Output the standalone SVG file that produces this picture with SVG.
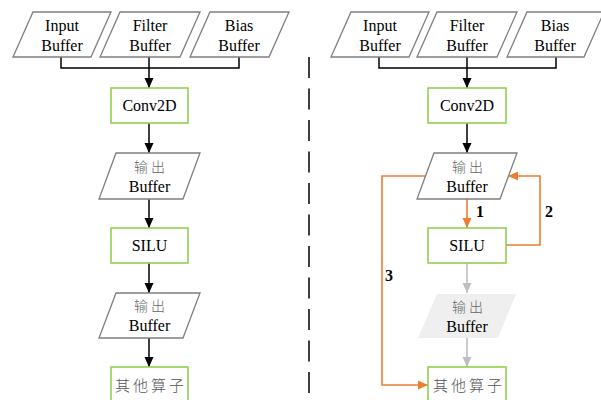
<svg xmlns="http://www.w3.org/2000/svg" width="601" height="400" viewBox="0 0 601 400">
<style>
.pg{fill:#fff;stroke:#7f7f7f;stroke-width:1.3}
.pgg{fill:#efefef;stroke:none}
.bx{fill:#fff;stroke:#92d050;stroke-width:1.6}
.t{font-family:'Liberation Serif',serif;font-size:16px;fill:#000;text-anchor:middle}
.c{font-family:'Noto Sans CJK SC',sans-serif;font-size:14px;font-weight:300;fill:#666;text-anchor:middle;letter-spacing:3px}
.c2{font-family:'Noto Sans CJK SC',sans-serif;font-size:15px;font-weight:300;fill:#555;text-anchor:middle;letter-spacing:3px}
.n{font-family:'Liberation Serif',serif;font-size:16px;font-weight:bold;fill:#000;text-anchor:middle}
.k{fill:none;stroke:#000;stroke-width:1.5}
.o{fill:none;stroke:#ed7d31;stroke-width:1.6}
.g{fill:none;stroke:#bfbfbf;stroke-width:1.6}
</style>
<defs>
<marker id="ak" markerUnits="userSpaceOnUse" markerWidth="10" markerHeight="10" refX="10" refY="5" orient="auto"><path d="M0,0.5 L10,5 L0,9.5 z" fill="#000"/></marker>
<marker id="ao" markerUnits="userSpaceOnUse" markerWidth="10" markerHeight="10" refX="10" refY="5" orient="auto"><path d="M0,0.5 L10,5 L0,9.5 z" fill="#ed7d31"/></marker>
<marker id="ag" markerUnits="userSpaceOnUse" markerWidth="10" markerHeight="10" refX="10" refY="5" orient="auto"><path d="M0,0.5 L10,5 L0,9.5 z" fill="#bfbfbf"/></marker>
</defs>

<g id="connectors">
<path class="k" d="M61,57 V68 H239 V57 M149,57 V68"/>
<path class="k" d="M149,68 V88" marker-end="url(#ak)"/>
<path class="k" d="M149,123 V153" marker-end="url(#ak)"/>
<path class="k" d="M149,199 V228" marker-end="url(#ak)"/>
<path class="k" d="M149,263 V293" marker-end="url(#ak)"/>
<path class="k" d="M149,338 V367" marker-end="url(#ak)"/>

<path class="k" d="M379,57 V68 H556 V57 M467,57 V68"/>
<path class="k" d="M467,68 V88" marker-end="url(#ak)"/>
<path class="k" d="M467,123 V153" marker-end="url(#ak)"/>
<path class="o" d="M467,199 V228" marker-end="url(#ao)"/>
<path class="o" d="M506,245 H540 V176 H508" marker-end="url(#ao)"/>
<path class="o" d="M425,176 H382 V385 H428" marker-end="url(#ao)"/>
<path class="g" d="M467,263 V293" marker-end="url(#ag)"/>
<path class="g" d="M467,338 V367" marker-end="url(#ag)"/>
<text class="n" x="480" y="217" font-family="Liberation Serif">1</text>
<text class="n" x="549" y="217" font-family="Liberation Serif">2</text>
<text class="n" x="389" y="281" font-family="Liberation Serif">3</text>
</g>

<g id="divider">
<line x1="309" y1="57" x2="309" y2="395" stroke="#000" stroke-width="1.5" stroke-dasharray="21 10.5"/>
</g>

<g id="L-input"><polygon class="pg" points="33,12 111,12 91,57 13,57"/><text class="t" x="62" y="31">Input</text><text class="t" x="62" y="51">Buffer</text></g>
<g id="L-filter"><polygon class="pg" points="120,12 200,12 180,57 100,57"/><text class="t" x="150" y="31">Filter</text><text class="t" x="150" y="51">Buffer</text></g>
<g id="L-bias"><polygon class="pg" points="210,12 289,12 269,57 190,57"/><text class="t" x="239" y="31">Bias</text><text class="t" x="239" y="51">Buffer</text></g>
<g id="L-conv"><rect class="bx" x="111" y="88" width="77" height="35"/><text class="t" x="149.5" y="111">Conv2D</text></g>
<g id="L-out1"><polygon class="pg" points="116,153 200,153 183,199 99,199"/><text class="c" x="151" y="172">输出</text><text class="t" x="149.5" y="192">Buffer</text></g>
<g id="L-silu"><rect class="bx" x="111" y="228" width="77" height="35"/><text class="t" x="149.5" y="251">SILU</text></g>
<g id="L-out2"><polygon class="pg" points="116,293 200,293 183,338 99,338"/><text class="c" x="151" y="311">输出</text><text class="t" x="149.5" y="331">Buffer</text></g>
<g id="L-other"><rect class="bx" x="111" y="367" width="77" height="40"/><text class="c2" x="151" y="391">其他算子</text></g>

<g id="R-input"><polygon class="pg" points="351,12 429,12 409,57 331,57"/><text class="t" x="380" y="31">Input</text><text class="t" x="380" y="51">Buffer</text></g>
<g id="R-filter"><polygon class="pg" points="437,12 517,12 497,57 417,57"/><text class="t" x="467" y="31">Filter</text><text class="t" x="467" y="51">Buffer</text></g>
<g id="R-bias"><polygon class="pg" points="527,12 604,12 584,57 507,57"/><text class="t" x="555" y="31">Bias</text><text class="t" x="555" y="51">Buffer</text></g>
<g id="R-conv"><rect class="bx" x="428" y="88" width="78" height="35"/><text class="t" x="467" y="111">Conv2D</text></g>
<g id="R-out1"><polygon class="pg" points="434,153 517,153 500,199 417,199"/><text class="c" x="469" y="172">输出</text><text class="t" x="467" y="192">Buffer</text></g>
<g id="R-silu"><rect class="bx" x="428" y="228" width="78" height="35"/><text class="t" x="467" y="251">SILU</text></g>
<g id="R-out2"><polygon class="pgg" points="437,294 516,294 498,338 418,338"/><text class="c" x="469" y="312">输出</text><text class="t" x="467" y="332">Buffer</text></g>
<g id="R-other"><rect class="bx" x="428" y="367" width="78" height="40"/><text class="c2" x="469" y="391">其他算子</text></g>
</svg>
